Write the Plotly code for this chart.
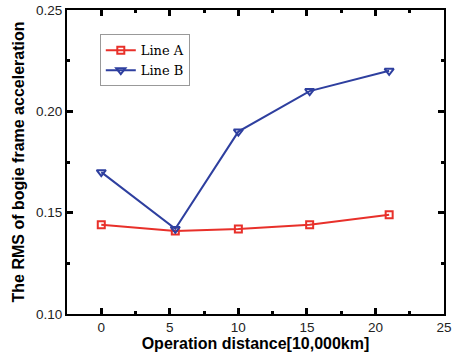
import plotly.graph_objects as go

distance_a = [0, 5.4, 10, 15.2, 21]
rms_a = [0.144, 0.141, 0.142, 0.144, 0.149]
distance_b = [0, 5.4, 10, 15.2, 21]
rms_b = [0.170, 0.142, 0.190, 0.210, 0.220]
x_ticks = [0, 5, 10, 15, 20, 25]
y_ticks = [0.10, 0.15, 0.20, 0.25]

red = "#e8302a"
blue = "#2e3f9f"

fig = go.Figure()
fig.add_trace(go.Scatter(
    x=distance_a, y=rms_a, name="Line A", mode="lines+markers",
    line=dict(color=red, width=2),
    marker=dict(symbol="square-open", size=7, color=red, line=dict(width=2)),
))
fig.add_trace(go.Scatter(
    x=distance_b, y=rms_b, name="Line B", mode="lines+markers",
    line=dict(color=blue, width=2),
    marker=dict(symbol="triangle-down-open", size=8, color=blue, line=dict(width=2)),
))

axis_common = dict(
    showline=True, linecolor="black", linewidth=2, mirror="allticks",
    ticks="inside", ticklen=6, tickwidth=2.5, tickcolor="black",
    showgrid=False, zeroline=False, automargin=False,
    tickfont=dict(family="Arial, Liberation Sans", size=13.5, color="#222"),
)

fig.update_xaxes(
    range=[-2.5, 25], tickvals=x_ticks,
    title=dict(text="<b>Operation distance[10,000km]</b>", standoff=1,
               font=dict(family="Arial, Liberation Sans", size=16, color="black")),
    minor=dict(ticks="inside", ticklen=3, tickwidth=2.5, tickcolor="black",
               tickvals=[2.5, 7.5, 12.5, 17.5, 22.5]),
    **axis_common,
)
fig.update_yaxes(
    range=[0.10, 0.25], tickvals=y_ticks, tickformat=".2f",
    title=dict(text="<b>The RMS of bogie frame acceleration</b>", standoff=7,
               font=dict(family="Arial, Liberation Sans", size=16, color="black")),
    minor=dict(ticks="inside", ticklen=3, tickwidth=2.5, tickcolor="black",
               tickvals=[0.125, 0.175, 0.225]),
    **axis_common,
)

fig.update_layout(
    width=453, height=361,
    margin=dict(l=67, r=9, t=10, b=47),
    plot_bgcolor="white", paper_bgcolor="white",
    legend=dict(
        x=0.087, y=0.92, xanchor="left", yanchor="top",
        bgcolor="white", bordercolor="#999", borderwidth=1,
        font=dict(family="DejaVu Serif", size=13, color="black"),
        tracegroupgap=0, itemwidth=30,
    ),
    showlegend=True,
)

fig.write_html("out.html")
